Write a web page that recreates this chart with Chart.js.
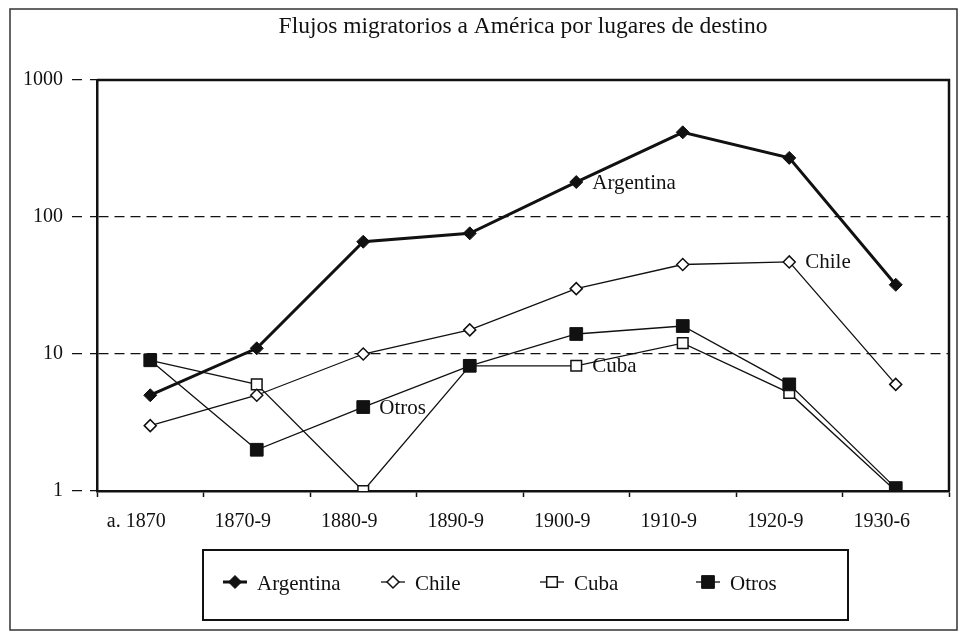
<!DOCTYPE html>
<html>
<head>
<meta charset="utf-8">
<script src="https://cdn.jsdelivr.net/npm/chart.js@4/dist/chart.umd.min.js"></script>
<style>
    html, body { margin: 0; padding: 0; background: #fff; }
</style>
</head>
<body>
<canvas id="lineChart" width="959" height="632"></canvas>
<script>
// Datos (escala logarítmica)
const periodos = ['a. 1870', '1870-9', '1880-9', '1890-9', '1900-9', '1910-9', '1920-9', '1930-6'];
const argentina = [5, 11, 66, 76, 180, 415, 270, 32];
const chile = [3, 5, 10, 15, 30, 45, 47, 6];
const cuba = [9, 6, 1, 8.2, 8.2, 12, 5.2, 1];
const otros = [9, 2, 4.1, 8.2, 14, 16, 6, 1.05];
const yTicks = [1, 10, 100, 1000];
const nombres = ['Argentina', 'Chile', 'Cuba', 'Otros'];
const etiquetaEn = [4, 6, 4, 2]; // punto junto al que se escribe el nombre de la serie
const titulo = 'Flujos migratorios a América por lugares de destino';

const tinta = '#111';
const fuente = '"Liberation Serif", "DejaVu Serif", serif';

function marcador(ctx, ds, x, y) {
    const r = ds.pointRadius;
    ctx.save();
    ctx.lineWidth = ds.pointBorderWidth;
    ctx.strokeStyle = tinta;
    ctx.fillStyle = ds.pointBackgroundColor;
    ctx.beginPath();
    if (ds.pointStyle === 'rectRot') {
        ctx.moveTo(x - r, y);
        ctx.lineTo(x, y - r);
        ctx.lineTo(x + r, y);
        ctx.lineTo(x, y + r);
        ctx.closePath();
    } else {
        const s = r * Math.SQRT1_2;
        ctx.rect(x - s, y - s, 2 * s, 2 * s);
    }
    ctx.fill();
    ctx.stroke();
    ctx.restore();
}

// Marco, título, nombres junto a las líneas y leyenda
const adornos = {
    id: 'adornos',
    afterDraw(chart) {
        const ctx = chart.ctx;
        const a = chart.chartArea;
        ctx.save();

        // marco exterior
        ctx.strokeStyle = '#333';
        ctx.lineWidth = 1.5;
        ctx.strokeRect(10, 9, 947, 621);

        // lados superior y derecho del área del gráfico
        ctx.strokeStyle = tinta;
        ctx.lineWidth = 2.5;
        ctx.beginPath();
        ctx.moveTo(a.left, a.top);
        ctx.lineTo(a.right, a.top);
        ctx.lineTo(a.right, a.bottom);
        ctx.stroke();

        // título
        ctx.fillStyle = tinta;
        ctx.font = '23.5px ' + fuente;
        ctx.textAlign = 'center';
        ctx.textBaseline = 'middle';
        ctx.fillText(titulo, (a.left + a.right) / 2, 27);

        // nombres de las series junto a un punto
        ctx.font = '21px ' + fuente;
        ctx.textAlign = 'left';
        chart.data.datasets.forEach((ds, i) => {
            const p = chart.getDatasetMeta(i).data[etiquetaEn[i]];
            ctx.fillText(ds.label, p.x + 16, p.y + 1);
        });

        // leyenda
        ctx.strokeStyle = tinta;
        ctx.lineWidth = 2;
        ctx.strokeRect(203, 550, 645, 70);
        const xs = [235, 393, 552, 708];
        chart.data.datasets.forEach((ds, i) => {
            const y = 582;
            ctx.lineWidth = ds.borderWidth;
            ctx.beginPath();
            ctx.moveTo(xs[i] - 12, y);
            ctx.lineTo(xs[i] + 12, y);
            ctx.stroke();
            marcador(ctx, ds, xs[i], y);
            ctx.fillStyle = tinta;
            ctx.fillText(ds.label, xs[i] + 22, y + 2);
        });
        ctx.restore();
    }
};

const series = [argentina, chile, cuba, otros];
const estilos = [
    { borderWidth: 3, pointStyle: 'rectRot', pointRadius: 6.5, pointBackgroundColor: tinta, pointBorderWidth: 1 },
    { borderWidth: 1.3, pointStyle: 'rectRot', pointRadius: 6, pointBackgroundColor: '#fff', pointBorderWidth: 1.5 },
    { borderWidth: 1.3, pointStyle: 'rect', pointRadius: 7.5, pointBackgroundColor: '#fff', pointBorderWidth: 1.5 },
    { borderWidth: 1.3, pointStyle: 'rect', pointRadius: 9, pointBackgroundColor: tinta, pointBorderWidth: 1 }
];
const ordenes = [1, 2, 3, 0];

const ctx = document.getElementById('lineChart').getContext('2d');
const lineChart = new Chart(ctx, {
    type: 'line',
    data: {
        labels: periodos,
        datasets: series.map((d, i) => Object.assign({
            label: nombres[i],
            data: d,
            borderColor: tinta,
            pointBorderColor: tinta,
            pointHoverRadius: estilos[i].pointRadius,
            fill: false,
            tension: 0,
            order: ordenes[i]
        }, estilos[i]))
    },
    options: {
        responsive: false,
        animation: false,
        layout: { padding: { top: 80, right: 2, left: 0, bottom: 0 } },
        plugins: {
            legend: { display: false },
            title: { display: false },
            tooltip: { enabled: false }
        },
        scales: {
            x: {
                type: 'category',
                offset: true,
                afterFit(scale) {
                    scale.height = 141;
                    scale.paddingRight = 0;
                    scale.paddingLeft = 0;
                },
                grid: {
                    offset: true,
                    drawOnChartArea: false,
                    color: tinta,
                    tickLength: 6,
                    tickWidth: 1.5
                },
                border: { color: tinta, width: 2.5 },
                ticks: {
                    color: tinta,
                    font: { family: fuente, size: 20 },
                    padding: 13,
                    labelOffset: -14,
                    maxRotation: 0,
                    autoSkip: false
                }
            },
            y: {
                type: 'logarithmic',
                min: 1,
                max: 1000,
                afterFit(scale) { scale.width = 97; },
                afterBuildTicks(scale) {
                    scale.ticks = yTicks.map(v => ({ value: v }));
                },
                grid: {
                    color: tinta,
                    lineWidth: 1.3,
                    tickLength: 25,
                    tickBorderDash: [10, 8],
                    tickWidth: 1.3
                },
                border: { color: tinta, width: 2.5, dash: [10, 6] },
                ticks: {
                    color: tinta,
                    font: { family: fuente, size: 20 },
                    padding: 9,
                    callback: v => String(v)
                }
            }
        }
    },
    plugins: [adornos]
});
</script>
</body>
</html>
